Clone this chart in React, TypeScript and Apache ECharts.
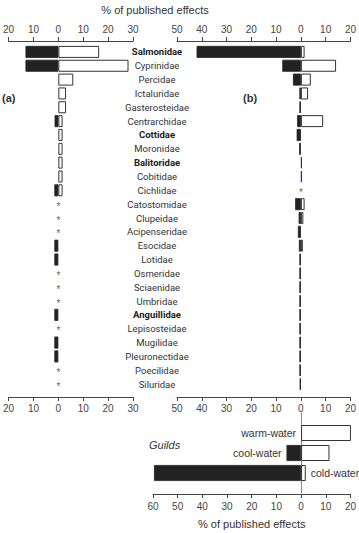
import React, { useEffect, useRef } from "react";
import * as echarts from "echarts";

// ---------- data ----------
const families = [
  "Salmonidae", "Cyprinidae", "Percidae", "Ictaluridae", "Gasterosteidae",
  "Centrarchidae", "Cottidae", "Moronidae", "Balitoridae", "Cobitidae",
  "Cichlidae", "Catostomidae", "Clupeidae", "Acipenseridae", "Esocidae",
  "Lotidae", "Osmeridae", "Sciaenidae", "Umbridae", "Anguillidae",
  "Lepisosteidae", "Mugilidae", "Pleuronectidae", "Poecilidae", "Siluridae",
];
const boldFamilies = ["Salmonidae", "Cottidae", "Balitoridae", "Anguillidae"];

// panel (a): negative (black) and positive (white) % of published effects
const negA = [-13.2, -13.2, null, null, null, -1.5, null, null, null, null,
  -1.6, null, null, null, -1.6, -1.6, null, null, null, -1.6,
  null, -1.6, -1.6, null, null];
const posA = [16.4, 28.2, 6.0, 3.1, 3.1, 1.7, 1.7, 1.7, 1.7, 1.7,
  1.7, null, null, null, null, null, null, null, null, null,
  null, null, null, null, null];
const noDataA = ["Catostomidae", "Clupeidae", "Acipenseridae", "Osmeridae",
  "Sciaenidae", "Umbridae", "Lepisosteidae", "Poecilidae", "Siluridae"];

// panel (b)
const negB = [-42.1, -7.5, -3.2, -0.6, -0.6, -1.5, -1.7, -0.7, null, null,
  null, -2.3, -0.9, -1.2, -0.8, -0.6, -0.6, -0.6, -0.6, -0.6,
  -0.6, -0.6, -0.6, -0.6, -0.5];
const posB = [1.5, 14.2, 4.0, 2.9, null, 9.0, null, null, 0.4, 0.4,
  null, 1.5, 1.0, null, 0.8, null, null, null, null, null,
  null, null, null, null, null];
const noDataB = ["Cichlidae"];

// guilds
const guilds = ["warm-water", "cool-water", "cold-water"];
const negGuild = [null, -5.9, -59.6];
const posGuild = [20.4, 11.5, 1.9];

// axis ranges
const rangeA = [-20, 30];
const rangeB = [-50, 20];
const rangeG = [-60, 20];

// ---------- styles ----------
const AX = "#444";
const TICK_FONT = "'Liberation Sans', Arial, sans-serif";
const CAT_FONT = "Roboto, 'Noto Sans', sans-serif";
const BLACK = { color: "#222", borderColor: "#222", borderWidth: 0.8 };
const WHITE = { color: "#fff", borderColor: "#333", borderWidth: 1 };

function tickLabel(margin: number) {
  return {
    margin,
    fontSize: 10,
    color: "#444",
    fontFamily: TICK_FONT,
    formatter: (v: number) => String(Math.abs(v)),
  };
}

function valueAxis(gridIndex: number, range: number[], position: string, offset: number, margin: number, extra: any = {}) {
  return {
    type: "value",
    gridIndex,
    position,
    offset,
    min: range[0],
    max: range[1],
    interval: 10,
    splitLine: { show: false },
    axisLine: { show: true, onZero: false, lineStyle: { color: AX, width: 1 } },
    axisTick: { show: true, length: 4, lineStyle: { color: AX } },
    axisLabel: tickLabel(margin),
    ...extra,
  };
}

function buildOption() {
  const guildAxisData = [" ", ...guilds, "  "];
  const pad = (arr: any[]) => [null, ...arr, null];

  const guildLabelSide = guilds.map((_, i) => {
    const leftEnd = negGuild[i] ?? 0;
    return leftEnd > -40 ? "left" : "right";
  });

  const labelStyle = {
    show: true,
    fontSize: 10.5,
    color: "#333",
    fontFamily: TICK_FONT,
    distance: 5,
  };

  const negGuildData = pad(
    negGuild.map((v, i) => ({
      value: v,
      label: guildLabelSide[i] === "left" && v != null
        ? { ...labelStyle, position: "left", formatter: guilds[i] }
        : { show: false },
    }))
  );
  const posGuildData = pad(
    posGuild.map((v, i) => ({
      value: v,
      label:
        guildLabelSide[i] === "right"
          ? { ...labelStyle, position: "right", formatter: guilds[i] }
          : negGuild[i] == null
          ? { ...labelStyle, position: "left", formatter: guilds[i] }
          : { show: false },
    }))
  );

  const starSeries = (xi: number, yi: number, names: string[]) => ({
    type: "scatter",
    xAxisIndex: xi,
    yAxisIndex: yi,
    symbolSize: 0,
    data: names.map((n) => [0, n]),
    label: {
      show: true,
      position: "inside",
      formatter: "*",
      fontSize: 10,
      color: "#333",
      offset: [0, 2],
      fontFamily: TICK_FONT,
    },
  });

  const barCommon = { type: "bar", barGap: "-100%" };

  return {
    animation: false,
    backgroundColor: "#fff",
    grid: [
      { left: 7, width: 126, top: 45, height: 346 },
      { left: 177, width: 176, top: 45, height: 346 },
      { left: 153, width: 200, top: 413, height: 80 },
    ],
    xAxis: [
      valueAxis(0, rangeA, "top", 4, 7),
      valueAxis(0, rangeA, "bottom", 6, 6),
      valueAxis(1, rangeB, "top", 4, 7),
      valueAxis(1, rangeB, "bottom", 6, 6),
      valueAxis(2, rangeG, "bottom", 1, 7, {
        name: "% of published effects",
        nameLocation: "middle",
        nameGap: 24,
        nameTextStyle: { fontSize: 11, color: "#333", fontFamily: TICK_FONT },
      }),
    ],
    yAxis: [
      {
        type: "category",
        gridIndex: 0,
        data: families,
        inverse: true,
        position: "right",
        axisLine: { show: false, onZero: false },
        axisTick: { show: false },
        axisLabel: {
          margin: 24,
          align: "center",
          fontSize: 9.5,
          color: "#333",
          fontFamily: CAT_FONT,
          formatter: (v: string) => (boldFamilies.includes(v) ? `{b|${v}}` : v),
          rich: { b: { fontWeight: "bold", fontSize: 9.5, color: "#222", fontFamily: CAT_FONT } },
        },
      },
      {
        type: "category",
        gridIndex: 1,
        data: families,
        inverse: true,
        axisLine: { show: false, onZero: false },
        axisTick: { show: false },
        axisLabel: { show: false },
      },
      {
        type: "category",
        gridIndex: 2,
        data: guildAxisData,
        inverse: true,
        boundaryGap: false,
        axisLine: { show: true, onZero: true, lineStyle: { color: "#888", width: 1 } },
        axisTick: { show: false },
        axisLabel: { show: false },
      },
    ],
    series: [
      { ...barCommon, xAxisIndex: 0, yAxisIndex: 0, barWidth: 12, data: negA, itemStyle: BLACK },
      { ...barCommon, xAxisIndex: 0, yAxisIndex: 0, barWidth: 12, data: posA, itemStyle: WHITE },
      { ...barCommon, xAxisIndex: 2, yAxisIndex: 1, barWidth: 12, data: negB, itemStyle: BLACK },
      { ...barCommon, xAxisIndex: 2, yAxisIndex: 1, barWidth: 12, data: posB, itemStyle: WHITE },
      { ...barCommon, xAxisIndex: 4, yAxisIndex: 2, barWidth: 16, data: negGuildData, itemStyle: BLACK },
      { ...barCommon, xAxisIndex: 4, yAxisIndex: 2, barWidth: 16, data: posGuildData, itemStyle: WHITE },
      starSeries(0, 0, noDataA),
      starSeries(2, 1, noDataB),
    ],
    graphic: [
      {
        type: "text",
        x: 155,
        y: 10,
        style: {
          text: "% of published effects",
          fontSize: 11,
          fill: "#333",
          fontFamily: TICK_FONT,
          textAlign: "center",
          textVerticalAlign: "middle",
        },
      },
      {
        type: "text",
        x: 2,
        y: 98,
        style: { text: "(a)", fontSize: 11, fontWeight: "bold", fill: "#333", fontFamily: TICK_FONT, textVerticalAlign: "middle" },
      },
      {
        type: "text",
        x: 243,
        y: 98,
        style: { text: "(b)", fontSize: 11, fontWeight: "bold", fill: "#333", fontFamily: TICK_FONT, textVerticalAlign: "middle" },
      },
      {
        type: "text",
        x: 149,
        y: 445,
        style: { text: "Guilds", fontSize: 11, fontStyle: "italic", fill: "#333", fontFamily: TICK_FONT, textVerticalAlign: "middle" },
      },
    ],
  };
}

export default function App() {
  const ref = useRef<HTMLDivElement>(null);
  useEffect(() => {
    if (!ref.current) return;
    const chart = echarts.init(ref.current, undefined, { renderer: "svg" });
    chart.setOption(buildOption() as any);
    return () => chart.dispose();
  }, []);
  return (
    <div
      ref={ref}
      style={{ position: "absolute", left: 0, top: 0, width: 359, height: 533, background: "#fff" }}
    />
  );
}
